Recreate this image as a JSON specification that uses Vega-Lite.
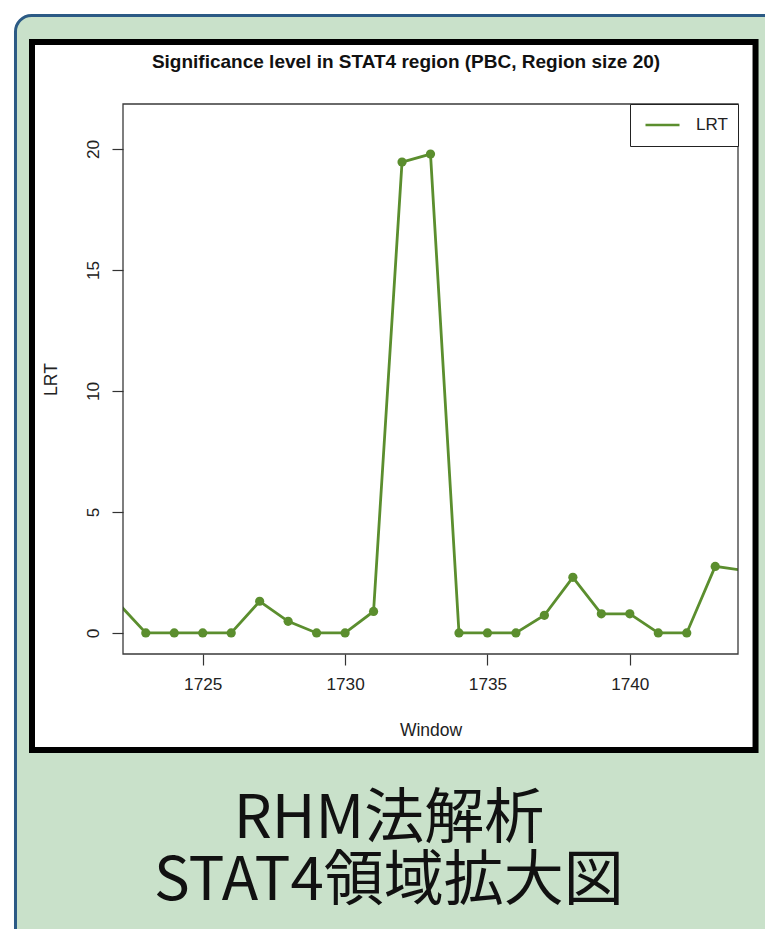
{
  "$schema": "https://vega.github.io/schema/vega-lite/v6.json",
  "autosize": "none",
  "width": 615,
  "height": 550,
  "padding": {"left": 123, "top": 104, "right": 27, "bottom": 275},
  "background": "#ffffff",
  "data": {
    "values": [
      {"window": 1722, "lrt": 1.27},
      {"window": 1723, "lrt": 0},
      {"window": 1724, "lrt": 0},
      {"window": 1725, "lrt": 0},
      {"window": 1726, "lrt": 0},
      {"window": 1727, "lrt": 1.31},
      {"window": 1728, "lrt": 0.48},
      {"window": 1729, "lrt": 0},
      {"window": 1730, "lrt": 0},
      {"window": 1731, "lrt": 0.89},
      {"window": 1732, "lrt": 19.46},
      {"window": 1733, "lrt": 19.79},
      {"window": 1734, "lrt": 0},
      {"window": 1735, "lrt": 0},
      {"window": 1736, "lrt": 0},
      {"window": 1737, "lrt": 0.73},
      {"window": 1738, "lrt": 2.3},
      {"window": 1739, "lrt": 0.79},
      {"window": 1740, "lrt": 0.79},
      {"window": 1741, "lrt": 0},
      {"window": 1742, "lrt": 0},
      {"window": 1743, "lrt": 2.75},
      {"window": 1744, "lrt": 2.58}
    ]
  },
  "layer": [
    {
      "data": {"values": [{}]},
      "mark": {"type": "rect", "fill": "#c9e1ca", "stroke": "#2b5a85", "strokeWidth": 3, "cornerRadius": 16, "clip": false},
      "encoding": {
        "x": {"datum": 1718.424, "type": "quantitative", "scale": {"domain": [1722.2, 1743.8], "nice": false, "zero": false}},
        "x2": {"datum": 1746},
        "y": {"datum": 25.517, "type": "quantitative", "scale": {"domain": [-0.87, 21.86], "nice": false, "zero": false}},
        "y2": {"datum": -15}
      }
    },
    {
      "data": {"values": [{}]},
      "mark": {"type": "rect", "fill": "#ffffff", "stroke": "#000000", "strokeWidth": 6, "clip": false},
      "encoding": {
        "x": {"datum": 1719.004, "type": "quantitative", "scale": {"domain": [1722.2, 1743.8], "nice": false, "zero": false}},
        "x2": {"datum": 1744.416},
        "y": {"datum": 24.422, "type": "quantitative", "scale": {"domain": [-0.87, 21.86], "nice": false, "zero": false}},
        "y2": {"datum": -4.838}
      }
    },
    {
      "mark": {"type": "line", "strokeWidth": 2.8, "clip": true},
      "encoding": {
        "x": {
          "field": "window", "type": "quantitative",
          "scale": {"domain": [1722.2, 1743.8], "nice": false, "zero": false},
          "axis": {"title": "Window", "values": [1725, 1730, 1735, 1740], "format": "d", "zindex": 5}
        },
        "y": {
          "field": "lrt", "type": "quantitative",
          "scale": {"domain": [-0.87, 21.86], "nice": false, "zero": false},
          "axis": {"title": "LRT", "values": [0, 5, 10, 15, 20], "labelAngle": 270, "zindex": 5}
        },
        "color": {
          "datum": "LRT",
          "scale": {"range": ["#5b8e2e"]},
          "legend": {
            "title": null,
            "orient": "top-right",
            "offset": 0,
            "padding": 10,
            "clipHeight": 22,
            "strokeColor": "#222222",
            "fillColor": "#ffffff",
            "symbolType": "stroke",
            "symbolSize": 1156,
            "symbolOffset": 4,
            "symbolStrokeWidth": 2.6,
            "labelFont": "Liberation Sans",
            "labelFontSize": 17,
            "labelColor": "#222222",
            "labelOffset": 15
          }
        }
      }
    },
    {
      "mark": {"type": "point", "filled": true, "size": 85, "opacity": 1, "color": "#5b8e2e", "clip": true},
      "encoding": {
        "x": {"field": "window", "type": "quantitative", "scale": {"domain": [1722.2, 1743.8], "nice": false, "zero": false}},
        "y": {"field": "lrt", "type": "quantitative", "scale": {"domain": [-0.87, 21.86], "nice": false, "zero": false}}
      }
    },
    {
      "data": {"values": [{}]},
      "mark": {"type": "rect", "fillOpacity": 0, "stroke": "#3a3a3a", "strokeWidth": 1.3, "clip": false},
      "encoding": {
        "x": {"datum": 1722.2, "type": "quantitative", "scale": {"domain": [1722.2, 1743.8], "nice": false, "zero": false}},
        "x2": {"datum": 1743.8},
        "y": {"datum": 21.86, "type": "quantitative", "scale": {"domain": [-0.87, 21.86], "nice": false, "zero": false}},
        "y2": {"datum": -0.87}
      }
    },
    {
      "data": {"values": [{"label": "Significance level in STAT4 region (PBC, Region size 20)"}]},
      "mark": {"type": "text", "font": "Liberation Sans", "fontWeight": "bold", "fontSize": 19, "color": "#111111", "align": "center", "baseline": "alphabetic", "clip": false},
      "encoding": {
        "x": {"datum": 1732.14, "type": "quantitative", "scale": {"domain": [1722.2, 1743.8], "nice": false, "zero": false}},
        "y": {"datum": 23.33, "type": "quantitative", "scale": {"domain": [-0.87, 21.86], "nice": false, "zero": false}},
        "text": {"field": "label"}
      }
    },
    {
      "data": {"values": [{"label": "RHM法解析\nSTAT4領域拡大図"}]},
      "mark": {"type": "text", "font": "Noto Sans CJK JP", "fontSize": 60, "lineHeight": 62, "lineBreak": "\n", "color": "#111111", "align": "center", "baseline": "alphabetic", "clip": false},
      "encoding": {
        "x": {"datum": 1731.54, "type": "quantitative", "scale": {"domain": [1722.2, 1743.8], "nice": false, "zero": false}},
        "y": {"datum": -8.47, "type": "quantitative", "scale": {"domain": [-0.87, 21.86], "nice": false, "zero": false}},
        "text": {"field": "label"}
      }
    }
  ],
  "config": {
    "view": {"stroke": null},
    "axis": {
      "domain": false,
      "grid": false,
      "tickSize": 11,
      "tickColor": "#333333",
      "tickWidth": 1.2,
      "labelFont": "Liberation Sans",
      "labelFontSize": 17.2,
      "labelColor": "#222222",
      "labelPadding": 10,
      "labelFlush": false,
      "labelOverlap": false,
      "titleFont": "Liberation Sans",
      "titleFontSize": 17.5,
      "titleFontWeight": "normal",
      "titleColor": "#222222"
    },
    "axisX": {"titlePadding": 29},
    "axisY": {"titlePadding": 24}
  }
}
